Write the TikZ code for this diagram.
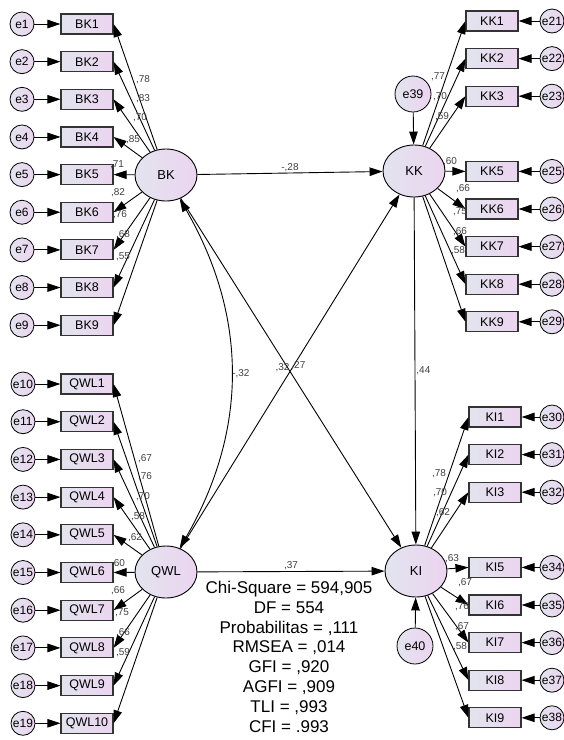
\documentclass[tikz,border=0pt]{standalone}
\usepackage{fontspec}
\setmainfont{Liberation Sans}
\usetikzlibrary{arrows.meta,shapes.geometric}
\definecolor{PaleBlue}{HTML}{E2E4EE}
\definecolor{PalePink}{HTML}{ECD4F0}
\definecolor{Frame}{HTML}{333333}
\definecolor{Coef}{HTML}{404040}

\begin{document}
\begin{tikzpicture}[x=1pt,y=-1pt,
    obs/.style={draw=Frame,line width=1.1pt,left color=PaleBlue,right color=PalePink,
      minimum width=52pt,minimum height=20pt,inner sep=0pt,font=\fontsize{12.5}{14}\selectfont},
    lat/.style={ellipse,draw,line width=0.9pt,left color=PaleBlue,right color=PalePink,
      minimum width=62pt,minimum height=52pt,inner sep=0pt,font=\fontsize{13}{15}\selectfont},
    err/.style={circle,draw,line width=0.8pt,left color=PaleBlue,right color=PalePink,
      minimum size=24pt,inner sep=0pt,font=\fontsize{12}{14}\selectfont},
    bigerr/.style={err,minimum size=36pt,font=\fontsize{12.5}{14}\selectfont},
    arr/.style={-{Triangle[length=13pt,width=8.5pt]},line width=0.9pt},
    darr/.style={{Triangle[length=13pt,width=8.5pt]}-{Triangle[length=13pt,width=8.5pt]},line width=0.9pt},
    coef/.style={text=Coef,inner sep=1pt,font=\fontsize{10}{12}\selectfont},
    stats/.style={anchor=north,align=center,inner sep=0pt,font=\fontsize{17}{19.8}\selectfont}]
    \useasboundingbox[fill=white] (0,0) rectangle (564,740);

    % latent variables
    \node[lat] (BK) at (166,175) {BK};
    \node[lat] (QWL) at (166,572) {QWL};
    \node[lat] (KK) at (414,171) {KK};
    \node[lat] (KI) at (416,571) {KI};
    \node[bigerr] (e39) at (413,94) {e39};
    \node[bigerr] (e40) at (415,646) {e40};

    % BK indicators
    \foreach \i/\v/\lx/\ly in {1/78/143/80,2/83/143/99,3/70/140/118,4/85/133/140,5/71/117/165,
      6/82/118/193,7/76/120/215,8/68/123/235,9/55/123/257}
    {
      \pgfmathsetmacro\ypos{24+37.65*(\i-1)}
      \node[err] (e\i) at (22,\ypos) {e\i};
      \node[obs] (BK\i) at (87,\ypos) {BK\i};
      \draw[arr] (e\i) -- (BK\i);
      \draw[arr] (BK) -- (BK\i.east);
      \node[coef] (lBK\i) at (\lx,\ly) {,\v};
    }

    % QWL indicators
    \foreach \i/\v/\lx/\ly in {1/67/145/459,2/76/145/477,3/70/143/497,4/58/138/517,5/62/135/538,
      6/60/118/564,7/66/118/591,8/75/122/613,9/66/123/633,10/59/123/653}
    {
      \pgfmathsetmacro\ypos{384+37.7*(\i-1)}
      \pgfmathtruncatemacro\en{\i+9}
      \node[err] (e\en) at (23,\ypos) {e\en};
      \node[obs] (QWL\i) at (87,\ypos) {QWL\i};
      \draw[arr] (e\en) -- (QWL\i);
      \draw[arr] (QWL) -- (QWL\i.east);
      \node[coef] (lQWL\i) at (\lx,\ly) {,\v};
    }

    % KK indicators
    \foreach \k/\en/\v/\lx/\ly in {1/21/77/438/77,2/22/70/440/97,3/23/59/442/117,5/25/60/450/162,
      6/26/66/463/189,7/27/75/460/212,8/28/66/460/232,9/29/58/458/251}
    {
      \pgfmathsetmacro\ypos{21+37.6*(\k-1)}
      \node[obs] (KK\k) at (492,\ypos) {KK\k};
      \node[err] (e\en) at (552,\ypos) {e\en};
      \draw[arr] (e\en) -- (KK\k);
      \draw[arr] (KK) -- (KK\k.west);
      \node[coef] (lKK\k) at (\lx,\ly) {,\v};
    }

    % KI indicators
    \foreach \k/\en/\v/\lx/\ly in {1/30/78/439/474,2/31/70/440/493,3/32/62/443/513,5/34/63/452/559,
      6/35/67/465/583,7/36/76/462/607,8/37/67/462/627,9/38/58/460/647}
    {
      \pgfmathsetmacro\ypos{417+37.6*(\k-1)}
      \node[obs] (KI\k) at (495,\ypos) {KI\k};
      \node[err] (e\en) at (552,\ypos) {e\en};
      \draw[arr] (e\en) -- (KI\k);
      \draw[arr] (KI) -- (KI\k.west);
      \node[coef] (lKI\k) at (\lx,\ly) {,\v};
    }

    % structural paths
    \draw[arr] (e39) -- (KK);
    \draw[arr] (e40) -- (KI);
    \draw[arr] (BK) -- node[coef,above] {-,28} (KK);
    \draw[arr] (QWL) -- node[coef,above] {,37} (KI);
    \draw[arr] (KK) -- node[coef,right] {,44} (KI);
    \draw[darr] (BK) to[bend left=30] node[coef,right] {-,32} (QWL);
    \draw[arr] (BK) -- node[coef,above left] {,32} (KI);
    \draw[arr] (QWL) -- node[coef,above right] {,27} (KK);

    % fit indices
    \node[stats] (fit) at (289,581) {Chi-Square = 594,905\\DF = 554\\Probabilitas = ,111\\RMSEA = ,014\\GFI = ,920\\AGFI = ,909\\TLI = ,993\\CFI = .993};
\end{tikzpicture}
\end{document}
